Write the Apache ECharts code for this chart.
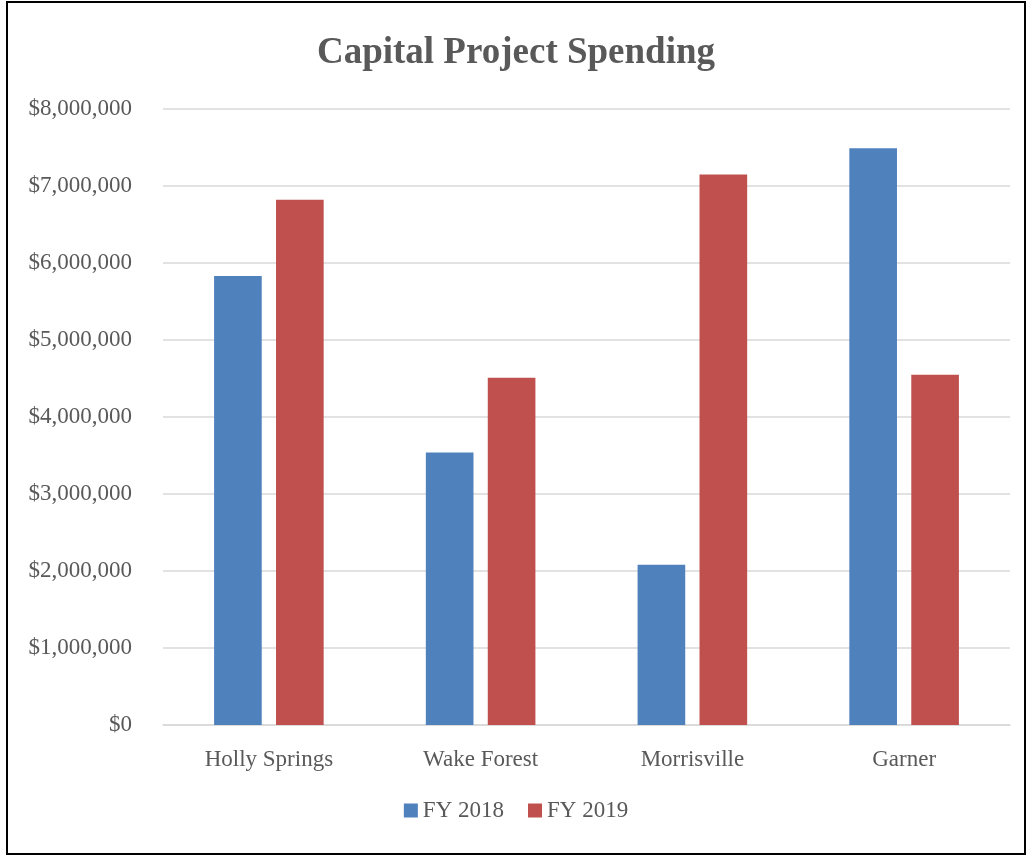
<!DOCTYPE html>
<html><head><meta charset="utf-8">
<script src="https://cdn.jsdelivr.net/npm/echarts@6/dist/echarts.min.js"></script>
<style>
html,body{margin:0;padding:0;background:#fff;}
#frame{position:absolute;left:6px;top:1px;width:1016px;height:850px;border:2px solid #000;box-sizing:content-box;}
#chart{width:1016px;height:850px;}
</style></head>
<body><div id="frame"><div id="chart"></div></div>
<script>
const categories = ["Holly Springs", "Wake Forest", "Morrisville", "Garner"];
const fy2018 = [5830000, 3540000, 2080000, 7490000];
const fy2019 = [6820000, 4510000, 7150000, 4550000];
const seriesNames = ["FY 2018", "FY 2019"];
const FONT = "Liberation Serif";
const chart = echarts.init(document.getElementById('chart'));
chart.setOption({
  animation:false,
  textStyle:{fontFamily:FONT},
  title:{text:"Capital Project Spending",left:'center',top:27,
    textStyle:{fontFamily:FONT,fontSize:37,fontWeight:'bold',color:'#595959'}},
  legend:{data:seriesNames,bottom:26,itemWidth:14,itemHeight:14,itemGap:24,icon:'rect',
    textStyle:{fontFamily:FONT,fontSize:23,color:'#595959'}},
  grid:{left:155,right:14,top:106,bottom:128},
  xAxis:{type:'category',data:categories,
    axisLine:{lineStyle:{color:'#d9d9d9',width:1.5}},axisTick:{show:false},
    axisLabel:{fontFamily:FONT,fontSize:23,color:'#595959',margin:23}},
  yAxis:{type:'value',min:0,max:8000000,interval:1000000,
    splitLine:{lineStyle:{color:'#d9d9d9',width:1.5}},
    axisLabel:{fontFamily:FONT,fontSize:23,color:'#595959',margin:31,
      formatter:v=>'$'+v.toLocaleString('en-US')}},
  series:[
    {name:seriesNames[0],type:'bar',data:fy2018,barWidth:'22.5%',barGap:'30%',itemStyle:{color:'#4f81bd'}},
    {name:seriesNames[1],type:'bar',data:fy2019,barWidth:'22.5%',barGap:'30%',itemStyle:{color:'#c0504d'}}
  ]
});
</script></body></html>
